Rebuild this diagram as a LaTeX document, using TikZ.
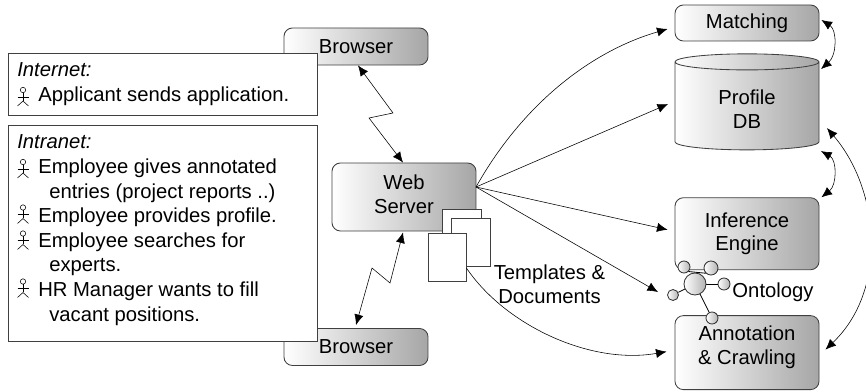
\documentclass[tikz,border=0pt]{standalone}
\usepackage{fontspec}
\setmainfont{Liberation Sans}
\usetikzlibrary{arrows.meta,positioning,shapes.geometric}
\tikzset{
  module/.style={
    rectangle, rounded corners=6pt, draw=black!75, semithick,
    left color=white, right color=black!35,
    minimum width=3.6cm, inner sep=0pt, align=center, font=\diagfont
  },
  database/.style={
    cylinder, draw=black!75, semithick, shape border rotate=90, aspect=0.28,
    left color=white, right color=black!35,
    minimum width=3.6cm, minimum height=2.4cm, inner sep=0pt, align=center, font=\diagfont
  },
  scenario/.style={rectangle, draw=black!75, semithick, fill=white, minimum width=7.725cm, inner sep=0pt},
  entry/.style={anchor=base west, inner sep=0pt, font=\diagfont},
  document/.style={rectangle, draw=black!75, semithick, fill=white, inner sep=0pt},
  plain/.style={inner sep=0pt, align=center, font=\diagfont},
  concept/.style={circle, draw=black!80, semithick, left color=white, right color=black!30, inner sep=0pt},
  arrow/.style={{Latex[length=7.5pt,width=6.5pt]}-{Latex[length=7.5pt,width=6.5pt]}, black, thin},
  flow/.style={-{Latex[length=7.5pt,width=6.5pt]}, black, thin},
  actor/.pic={
    \draw[black, thin] (0,-6.5) circle[radius=2.7];
    \draw[black, thin] (0,-3.8) -- (0,4.5);
    \draw[black, thin] (-5.5,0.5) -- (5.5,0.5);
    \draw[black, thin] (-5.5,9.5) -- (0,4.5) -- (5.5,9.5);
  },
}
\newcommand{\diagfont}{\fontsize{14.4}{17}\selectfont}

\begin{document}
\begin{tikzpicture}[x=0.025cm,y=-0.025cm]
  \clip (0,0) rectangle (866,392);

  % Browsers, behind the text boxes
  \node[module, minimum height=0.925cm] (browsertop) at (356,46.5) {Browser};
  \node[module, minimum height=0.925cm] (browserbottom) at (356,347) {Browser};

  % Web server and its documents
  \node[module, minimum height=1.7cm] (web) at (404,197) {Web\\Server\\[-12.4pt]};
  \node[document, minimum width=0.975cm, minimum height=1.2cm] (docback) at (461.5,233) {};
  \node[document, minimum width=0.975cm, minimum height=1.2cm] (docmiddle) at (470.5,242) {};
  \node[document, minimum width=0.95cm, minimum height=1.2cm] (docfront) at (447,257) {};
  \node[plain] (templates) at (549.5,284) {Templates \&\\Documents};

  % Right column
  \node[module, minimum height=0.9cm] (matching) at (747,23) {Matching};
  \node[database, below=0.3cm of matching] (profile) {\rule{0pt}{14.7pt}Profile\\DB};
  \node[module, minimum height=1.8cm, below=1.175cm of profile] (inference) {Inference\\Engine};
  \node[module, minimum height=1.85cm, below=1.125cm of inference] (annotation) {Annotation\\\& Crawling\\[-6pt]};

  % Text boxes
  \node[scenario, minimum height=1.55cm] (internet) at (162.5,84) {};
  \node[scenario, minimum height=5.4cm] (intranet) at (162.5,233) {};
  \node[entry] (internettitle) at (17,77) {\itshape Internet:};
  \node[entry] (applicant) at (38,101.5) {Applicant sends application.};
  \node[entry] (intranettitle) at (17,149) {\itshape Intranet:};
  \node[entry] (gives) at (38,174) {Employee gives annotated};
  \node[entry] (entries) at (49,199) {entries (project reports ..)};
  \node[entry] (provides) at (38,223) {Employee provides profile.};
  \node[entry] (searches) at (38,248) {Employee searches for};
  \node[entry] (experts) at (49,272) {experts.};
  \node[entry] (manager) at (38,296) {HR Manager wants to fill};
  \node[entry] (vacant) at (49,321) {vacant positions.};

  % Actors
  \pic at (23,96.5) {actor};
  \pic at (23,168.5) {actor};
  \pic at (23,214) {actor};
  \pic at (23,240) {actor};
  \pic at (23,288) {actor};

  % Browser links
  \draw[arrow] ([shift={(2,0)}]browsertop.south) -- (393,113) -- (369,118) -- ([shift={(-1,0)}]web.north);
  \draw[arrow] ([shift={(-1,1)}]web.south) -- (390,283) -- (372,268) -- ([shift={(0,-3)}]browserbottom.north);

  % Links out of the web server
  \coordinate (hub) at (476,187);
  \draw[flow] (hub) .. controls (525,100) and (595,50) .. ([shift={(-7,6)}]matching.west);
  \draw[flow] (hub) -- ([shift={(-79,-2)}]profile.center);
  \draw[flow] (hub) -- ([shift={(-7,-4)}]inference.west);
  \coordinate (ontologytip) at (658,292);
  \draw[flow] (hub) -- (ontologytip);
  \draw[flow] (docfront.east) ++(0,11) .. controls (505,325) and (590,365) .. ([shift={(-8,-1)}]annotation.west);

  % Links on the right
  \draw[arrow] ([shift={(2,-3)}]matching.east) .. controls (837,30) and (837,55) .. ([shift={(74,-37)}]profile.center);
  \draw[arrow] ([shift={(74,45)}]profile.center) .. controls (837,160) and (837,185) .. ([shift={(2,0)}]inference.north east);
  \draw[arrow] ([shift={(80,22)}]profile.center) .. controls (880,190) and (888,290) .. ([shift={(6,-3)}]annotation.east);

  % Ontology
  \coordinate (ontologycenter) at (695,284);
  \node[concept, minimum size=0.3cm] (conceptleft) at (684,267) {};
  \node[concept, minimum size=0.35cm] (conceptright) at (711,268) {};
  \node[concept, minimum size=0.3cm] (conceptside) at (724,284) {};
  \node[concept, minimum size=0.275cm] (conceptlow) at (673,295) {};
  \node[concept, minimum size=0.3cm] (conceptbottom) at (712,318) {};
  \draw[black, semithick] (conceptleft.south east) -- (conceptright.south west);
  \draw[black, semithick] (ontologycenter) -- (conceptside);
  \draw[black, semithick] (ontologycenter) -- (conceptlow);
  \draw[black, semithick] (ontologycenter) -- (conceptbottom);
  \node[concept, minimum size=0.55cm] (ontologyhub) at (ontologycenter) {};
  \node[plain] (ontology) at (773,292) {Ontology};
\end{tikzpicture}
\end{document}
